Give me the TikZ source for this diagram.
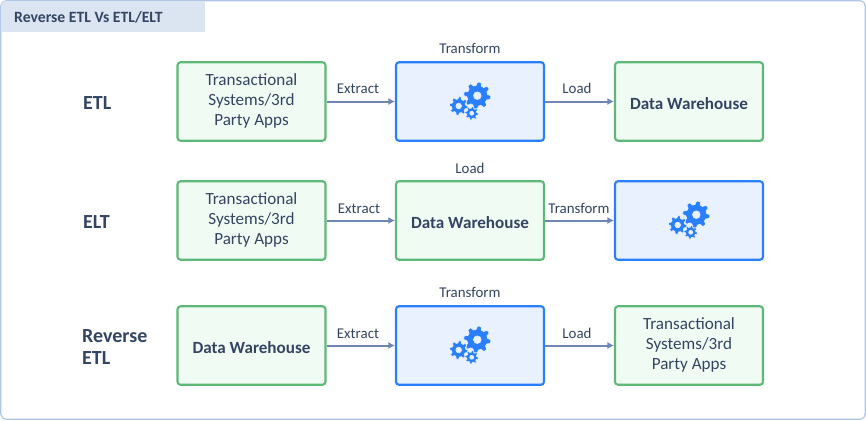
\documentclass[tikz,border=0pt]{standalone}
\usepackage{fontspec}
\setmainfont{Carlito}
\definecolor{ink}{HTML}{344563}
\definecolor{gborder}{HTML}{5CB978}
\definecolor{gfill}{HTML}{F0FBF4}
\definecolor{bborder}{HTML}{2A7FFF}
\definecolor{bfill}{HTML}{EAF1FE}
\definecolor{edge}{HTML}{6F86B3}
\definecolor{frame}{HTML}{AFC6E6}
\definecolor{titlefill}{HTML}{DBE5F2}
\usetikzlibrary{arrows.meta}
\newcommand{\threelines}{\raisebox{1pt}[\height][\depth]{\parbox{140pt}{\centering Transactional\\Systems/3rd\\Party Apps}}}
\newcommand{\dwh}{\raisebox{-2pt}[\height][\depth]{Data Warehouse}}
\tikzset{
  x=1pt,y=-1pt,
  box/.style={minimum width=148pt,minimum height=78.5pt,rounded corners=3pt,line width=2.1pt,inner sep=0pt,align=center,text=ink,font=\fontsize{17.1}{20}\selectfont},
  greenbox/.style={box,draw=gborder,fill=gfill},
  bluebox/.style={box,draw=bborder,fill=bfill},
  strong/.style={font=\fontsize{17.1}{20}\selectfont\bfseries},
  flowlabel/.style={text=ink,font=\fontsize{14.9}{16}\selectfont,inner sep=0pt},
  rowlabel/.style={text=ink,font=\fontsize{20}{22}\selectfont\bfseries,inner sep=0pt,anchor=west,align=left},
  flow/.style={draw=edge,line width=2pt,-{Latex[length=6.5pt,width=7pt]}},
}
\newcommand{\cog}[3]{%
  \filldraw[bborder,draw=bfill,line width=0.7pt,even odd rule,shift={#1}] plot[domain=0:360,samples=193,variable=\t]
    ({#2*(0.88+0.12*max(-1,min(1,1.8*sin(8*\t+22.5))))*cos(\t)},{#2*(0.88+0.12*max(-1,min(1,1.8*sin(8*\t+22.5))))*sin(\t)}) -- cycle
    (0,0) circle[radius=#3];
}
\newcommand{\gears}[1]{%
  \begin{scope}[shift={#1}]
    \cog{(7.3,-5.8)}{13.6}{3.8}
    \cog{(-11.3,4.5)}{9.3}{2.8}
    \cog{(1.7,11.8)}{6.8}{2}
  \end{scope}}
\begin{document}
\begin{tikzpicture}
\useasboundingbox (0,0) rectangle (866,420);
\fill[white] (0,0) rectangle (866,420);
\draw[frame,line width=1.2pt,rounded corners=5pt] (0.8,0.8) rectangle (865.2,419.2);
\begin{scope}
\clip[rounded corners=5pt] (0.8,0.8) rectangle (865.2,419.2);
\fill[titlefill] (1,1) rectangle (205,32);
\end{scope}
\node[anchor=west,text=ink,inner sep=0pt,font=\fontsize{15.7}{18}\selectfont\bfseries] (title) at (14,17) {Reverse ETL Vs ETL/ELT};

\node[rowlabel] (l1) at (83,103.5) {ETL};
\node[rowlabel] (l2) at (83,222.5) {ELT};
\node[rowlabel] (l3) at (82,347) {Reverse\\ETL};

\node[greenbox] (a1) at (251.5,101.5) {\threelines};
\node[bluebox] (b1) at (470,101.5) {};
\node[greenbox,strong] (c1) at (689,101.5) {\dwh};
\node[greenbox] (a2) at (251.5,220.5) {\threelines};
\node[greenbox,strong] (b2) at (470,220.5) {\dwh};
\node[bluebox] (c2) at (689,220.5) {};
\node[greenbox,strong] (a3) at (251.5,345.5) {\dwh};
\node[bluebox] (b3) at (470,345.5) {};
\node[greenbox] (c3) at (689,345.5) {\threelines};

\gears{(470,101.5)}
\gears{(689,220.5)}
\gears{(470,345.5)}

\draw[flow] (a1) -- (b1);
\draw[flow] (b1) -- (c1);
\draw[flow] (a2) -- (b2);
\draw[flow] (b2) -- (c2);
\draw[flow] (a3) -- (b3);
\draw[flow] (b3) -- (c3);

\node[flowlabel] (t1) at (470,48) {Transform};
\node[flowlabel] (t2) at (470,168) {Load};
\node[flowlabel] (t3) at (470,292) {Transform};
\node[flowlabel] (e1) at (358,88.7) {Extract};
\node[flowlabel] (d1) at (577,88) {Load};
\node[flowlabel] (e2) at (359,208.7) {Extract};
\node[flowlabel] (d2) at (579,208) {Transform};
\node[flowlabel] (e3) at (358,333.7) {Extract};
\node[flowlabel] (d3) at (577,333) {Load};
\end{tikzpicture}
\end{document}
